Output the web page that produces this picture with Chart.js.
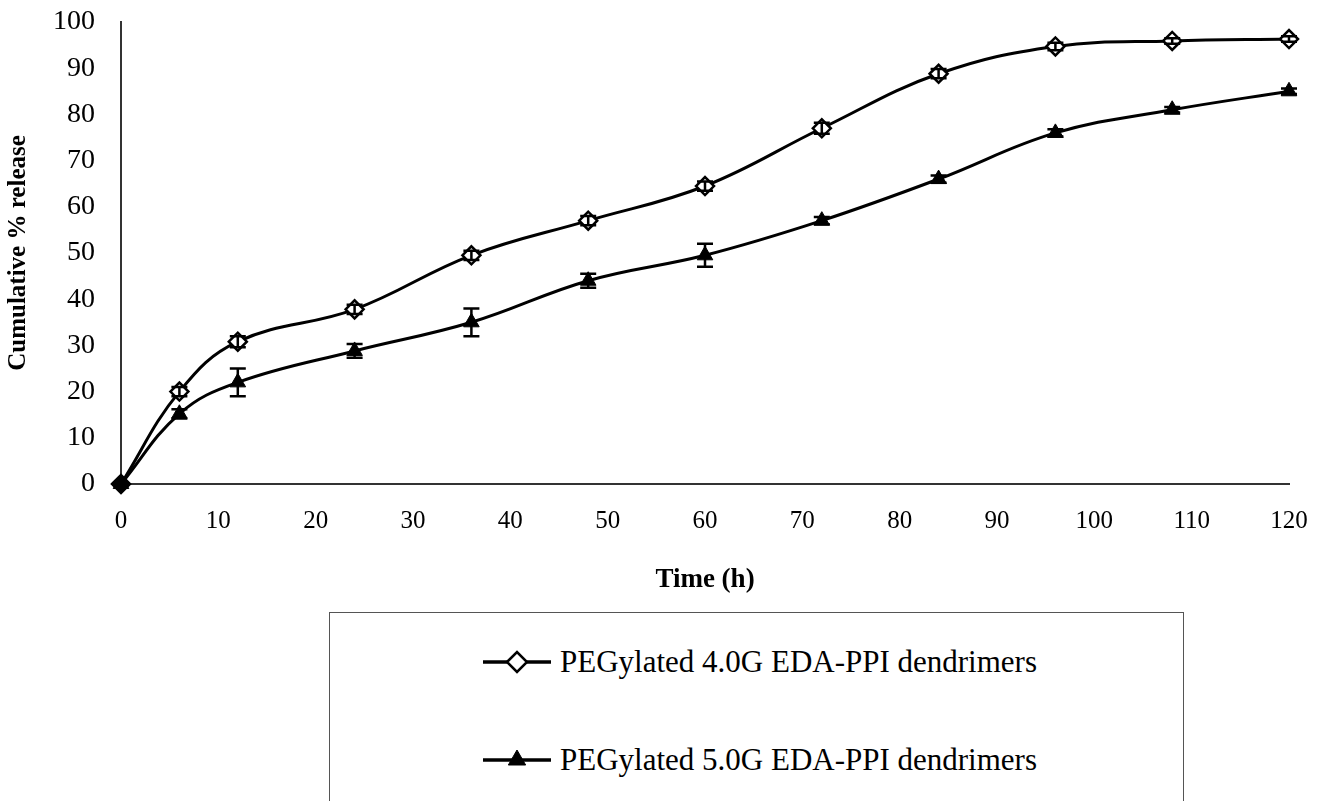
<!DOCTYPE html>
<html>
<head>
<meta charset="utf-8">
<script src="https://cdn.jsdelivr.net/npm/chart.js@4.4.1/dist/chart.umd.min.js"></script>
<style>
  html, body { margin:0; padding:0; background:#fff; }
  body { width:1327px; height:801px; position:relative; overflow:hidden; font-family:"Liberation Serif","Times New Roman",serif; }
  #wrap { position:absolute; left:0; top:0; width:1327px; height:600px; }
  #legend { position:absolute; left:329px; top:612px; width:855px; height:200px; border:1.5px solid #555; box-sizing:border-box; }
  .item { position:absolute; left:151px; height:34px; display:flex; align-items:center; color:#000; font-size:31px; white-space:nowrap; }
  .item canvas { margin-right:7px; }
</style>
</head>
<body>
<div id="wrap"><canvas id="c" width="1327" height="600"></canvas></div>
<div id="legend">
  <div class="item" id="l1" style="top:32px"><canvas id="m1" width="72" height="30"></canvas><span id="t1"></span></div>
  <div class="item" id="l2" style="top:130px"><canvas id="m2" width="72" height="30"></canvas><span id="t2"></span></div>
</div>
<script>
const timeHours = [0, 6, 12, 24, 36, 48, 60, 72, 84, 96, 108, 120];
const gen4Release = [0, 20, 30.8, 37.8, 49.5, 57, 64.5, 77, 88.8, 94.7, 95.9, 96.3];
const gen4Error = [0, 1, 1.2, 1, 1, 1, 1, 1.2, 1, 0.8, 0.6, 0.6];
const gen5Release = [0, 15.2, 22, 28.8, 35, 44, 49.5, 57, 66, 76, 81, 85];
const gen5Error = [0, 1, 3, 1.5, 3, 1.5, 2.5, 0.8, 0.8, 0.8, 0.6, 0.6];
const seriesNames = ["PEGylated 4.0G EDA-PPI dendrimers", "PEGylated 5.0G EDA-PPI dendrimers"];
const yTicks = [0,10,20,30,40,50,60,70,80,90,100];
const xTicks = [0,10,20,30,40,50,60,70,80,90,100,110,120];

document.getElementById('t1').textContent = seriesNames[0];
document.getElementById('t2').textContent = seriesNames[1];

const errorBars = {
  id: 'errorBars',
  afterDatasetsDraw(chart) {
    const ctx = chart.ctx;
    const ys = chart.scales.y, xs = chart.scales.x;
    chart.data.datasets.forEach((ds) => {
      const errs = ds.errors;
      if (!errs) return;
      ctx.save();
      ctx.strokeStyle = '#000';
      ctx.lineWidth = 2.5;
      ds.data.forEach((p, i) => {
        const e = errs[i];
        if (!e) return;
        const x = xs.getPixelForValue(p.x);
        const y1 = ys.getPixelForValue(p.y + e);
        const y2 = ys.getPixelForValue(p.y - e);
        ctx.beginPath();
        ctx.moveTo(x, y1); ctx.lineTo(x, y2);
        ctx.moveTo(x - 8, y1); ctx.lineTo(x + 8, y1);
        ctx.moveTo(x - 8, y2); ctx.lineTo(x + 8, y2);
        ctx.stroke();
      });
      ctx.restore();
    });
  }
};

const toPts = (arr) => timeHours.map((t, i) => ({x: t, y: arr[i]}));

new Chart(document.getElementById('c'), {
  type: 'line',
  data: {
    datasets: [
      { label: seriesNames[0], data: toPts(gen4Release), errors: gen4Error, clip: false,
        borderColor: '#000', borderWidth: 3, tension: 0.4,
        pointStyle: 'rectRot', pointRadius: 9,
        pointBackgroundColor: (c) => c.dataIndex === 0 ? '#000' : '#fff',
        pointBorderColor: '#000', pointBorderWidth: 2.5 },
      { label: seriesNames[1], data: toPts(gen5Release), errors: gen5Error, clip: false,
        borderColor: '#000', borderWidth: 3, tension: 0.4,
        pointStyle: 'triangle', pointRadius: 9, pointBackgroundColor: '#000',
        pointBorderColor: '#000', pointBorderWidth: 1 }
    ]
  },
  options: {
    responsive: false,
    animation: false,
    layout: { padding: { top: 22, right: 38, left: 0, bottom: 0 } },
    plugins: { legend: { display: false }, tooltip: { enabled: false } },
    scales: {
      x: {
        type: 'linear', min: 0, max: 120,
        afterBuildTicks: (s) => { s.ticks = xTicks.map(v => ({value: v})); },
        afterFit: (s) => { s.height = 116; s.paddingLeft = 0; s.paddingRight = 0; },
        grid: { display: false, drawTicks: true, tickLength: 8, tickColor: '#333' },
        border: { color: '#333', width: 2 },
        ticks: { color: '#000', font: { family: 'Liberation Serif', size: 25 }, padding: 14, maxRotation: 0 },
        title: { display: true, text: 'Time (h)', color: '#000', font: { family: 'Liberation Serif', size: 27, weight: 'bold' }, padding: { top: 14 } }
      },
      y: {
        min: 0, max: 100,
        afterBuildTicks: (s) => { s.ticks = yTicks.map(v => ({value: v})); },
        afterFit: (s) => { s.width = 121; s.paddingTop = 0; s.paddingBottom = 0; },
        grid: { display: false, drawTicks: true, tickLength: 10, tickColor: '#333' },
        border: { color: '#333', width: 2 },
        ticks: { color: '#000', font: { family: 'Liberation Serif', size: 28 }, padding: 16 },
        title: { display: true, text: 'Cumulative % release', color: '#000', font: { family: 'Liberation Serif', size: 25, weight: 'bold' }, padding: { bottom: 4 } }
      }
    }
  },
  plugins: [errorBars]
});

(function(){
  const c1 = document.getElementById('m1').getContext('2d');
  c1.fillStyle = '#fff'; c1.strokeStyle = '#000';
  c1.lineWidth = 3.5; c1.beginPath(); c1.moveTo(2,15); c1.lineTo(70,15); c1.stroke();
  c1.lineWidth = 2.5;
  Chart.helpers.drawPoint(c1, {pointStyle:'rectRot', radius:10, rotation:0, borderWidth:2.5}, 36, 15);
  const c2 = document.getElementById('m2').getContext('2d');
  c2.fillStyle = '#000'; c2.strokeStyle = '#000';
  c2.lineWidth = 3.5; c2.beginPath(); c2.moveTo(2,15); c2.lineTo(70,15); c2.stroke();
  c2.lineWidth = 1;
  Chart.helpers.drawPoint(c2, {pointStyle:'triangle', radius:10, rotation:0, borderWidth:1}, 36, 15);
})();
</script>
</body>
</html>
